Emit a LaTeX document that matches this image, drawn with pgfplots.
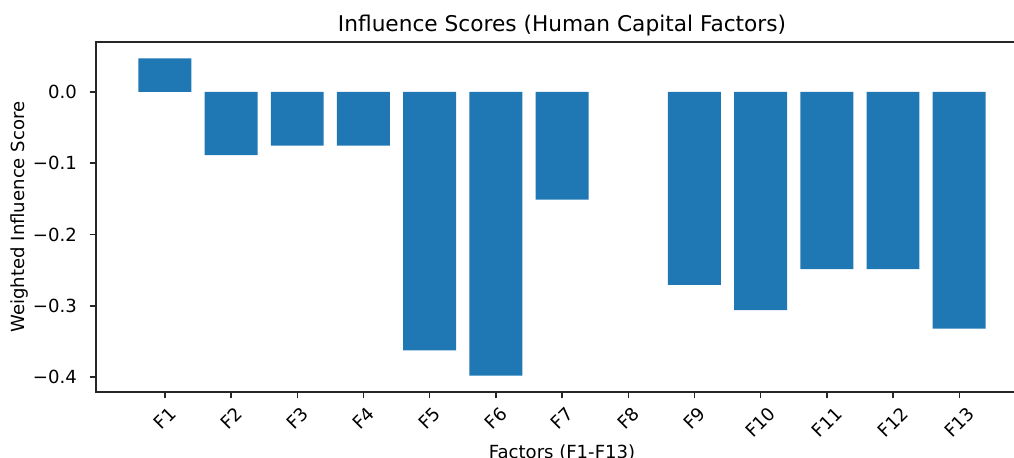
\documentclass[border=0pt]{standalone}
\usepackage{pgfplots}
\pgfplotsset{compat=1.18}
\usepackage{fontspec}
\setmainfont{DejaVu Sans}
\definecolor{mplblue}{RGB}{31,119,180}
\definecolor{spine}{RGB}{38,38,38}
\begin{document}
\begin{tikzpicture}
\begin{axis}[
  scale only axis,
  width=670.8pt, height=252pt,
  xmin=-1.04, xmax=13.04,
  ymin=-0.421, ymax=0.070,
  axis line style={spine, line width=1pt},
  tick style={spine, line width=1pt},
  major tick length=4.6pt,
  tick align=outside,
  xtick={0,1,2,3,4,5,6,7,8,9,10,11,12},
  xticklabels={\rotatebox{45}{F1},\rotatebox{45}{F2},\rotatebox{45}{F3},\rotatebox{45}{F4},\rotatebox{45}{F5},\rotatebox{45}{F6},\rotatebox{45}{F7},\rotatebox{45}{F8},\rotatebox{45}{F9},\rotatebox{45}{F10},\rotatebox{45}{F11},\rotatebox{45}{F12},\rotatebox{45}{F13}},
  ytick={-0.4,-0.3,-0.2,-0.1,0},
  yticklabels={−0.4,−0.3,−0.2,−0.1,0.0},
  xtick pos=bottom, ytick pos=left,
  xticklabel style={font=\fontsize{13}{15}\selectfont, anchor=north, inner sep=0pt, yshift=-5pt},
  yticklabel style={font=\fontsize{13}{15}\selectfont, anchor=east, inner sep=0pt, xshift=-9pt},
  title={Influence Scores (Human Capital Factors)},
  title style={font=\fontsize{15.6}{18}\selectfont, at={(axis description cs:0.5,1)}, anchor=south, yshift=-4pt, inner sep=2pt},
  xlabel={Factors (F1-F13)},
  ylabel={Weighted Influence Score},
  every axis x label/.style={at={(axis description cs:0.5,0)}, anchor=center, yshift=-43.8pt, font=\fontsize{13}{15}\selectfont},
  every axis y label/.style={at={(axis description cs:0,0.5)}, xshift=-55pt, anchor=center, rotate=90, font=\fontsize{13}{15}\selectfont},
  ybar, bar width=0.8, bar shift=0pt,
  clip=false,
]
% F8 (x=7) has a value of 0 and draws no bar
\addplot[fill=mplblue, draw=none] coordinates {
(0,0.047) (1,-0.0888) (2,-0.0755) (3,-0.0755) (4,-0.3625) (5,-0.398) (6,-0.151) (8,-0.2708) (9,-0.306) (10,-0.2487) (11,-0.2487) (12,-0.332)
};
\end{axis}
\pgfresetboundingbox
\path[use as bounding box] ([xshift=-69.1pt,yshift=-46.8pt]current axis.south west) rectangle ([xshift=-10.1pt,yshift=30.2pt]current axis.north east);
\end{tikzpicture}
\end{document}
